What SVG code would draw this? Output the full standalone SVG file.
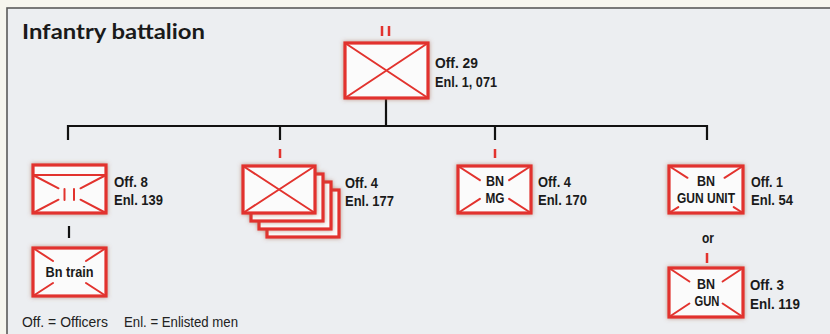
<svg xmlns="http://www.w3.org/2000/svg" width="830" height="334" viewBox="0 0 830 334">
<style>
.box{fill:#fbfbfb;stroke:#e2332e;stroke-width:3.2;filter:url(#glow)}
.x{stroke:#e2332e;stroke-width:2;fill:none;stroke-linecap:round}
.ln{stroke:#111;stroke-width:2.2;fill:none}
.rl{stroke:#e2332e;stroke-width:2.5;fill:none}
.t{font-family:"Liberation Sans",Arial,sans-serif;font-weight:bold;font-size:15px;fill:#1a1a1a}
.c{text-anchor:middle}
.f{font-family:"Liberation Sans",Arial,sans-serif;font-size:14.5px;fill:#222}
</style>
<defs>
<filter id="glow" x="-20%" y="-20%" width="140%" height="140%">
<feDropShadow dx="0" dy="0" stdDeviation="2" flood-color="#a0604a" flood-opacity="0.6"/>
</filter>
</defs>
<rect x="0" y="0" width="830" height="334" fill="#f6f5ee"/>
<rect x="7" y="8" width="830" height="330" fill="#eceef1" stroke="#5a5a5a" stroke-width="1.6"/>
<text x="22" y="39" font-family="Lato,'Liberation Sans',sans-serif" font-weight="bold" font-size="21" fill="#1a1a1a" textLength="183" lengthAdjust="spacingAndGlyphs">Infantry battalion</text>

<g id="connectors">
<path class="ln" d="M386 99V126M68 126H708M68 125V140M280 125V140M495 125V140M707 125V140M69 226V238"/>
<path class="rl" d="M280 149V158M495 149V158M707 253V263"/>
</g>

<g id="bn-hq">
<path class="rl" d="M382 26V36M389 26V36"/>
<rect class="box" x="345" y="43" width="83" height="55"/>
<path class="x" d="M345 43L428 98M428 43L345 98"/>
<text class="t" x="435" y="68" textLength="43" lengthAdjust="spacingAndGlyphs">Off. 29</text>
<text class="t" x="435" y="87" textLength="62" lengthAdjust="spacingAndGlyphs">Enl. 1, 071</text>
</g>

<g id="hq-company">
<rect class="box" x="33" y="165" width="73" height="48"/>
<path class="x" d="M33 175H106M33 175L58.5 188.3M106 175L80.5 188.3M33 213L58.5 199.7M106 213L80.5 199.7M64.5 189V200M74 189V200"/>
<text class="t" x="114" y="187" textLength="34" lengthAdjust="spacingAndGlyphs">Off. 8</text>
<text class="t" x="114" y="205" textLength="49" lengthAdjust="spacingAndGlyphs">Enl. 139</text>
</g>

<g id="bn-train">
<rect class="box" x="33" y="248" width="73" height="48"/>
<path class="x" d="M33 248L53 261M106 248L86 261M33 296L53 283M106 296L86 283"/>
<text class="t c" x="69.5" y="277" textLength="48" lengthAdjust="spacingAndGlyphs">Bn train</text>
</g>

<g id="rifle-companies">
<rect class="box" x="267" y="190" width="72" height="47"/>
<rect class="box" x="259" y="182" width="72" height="47"/>
<rect class="box" x="251" y="174" width="72" height="47"/>
<rect class="box" x="243" y="166" width="72" height="47"/>
<path class="x" d="M243 166L315 213M315 166L243 213"/>
<text class="t" x="345" y="188" textLength="33" lengthAdjust="spacingAndGlyphs">Off. 4</text>
<text class="t" x="345" y="206" textLength="49" lengthAdjust="spacingAndGlyphs">Enl. 177</text>
</g>

<g id="bn-mg">
<rect class="box" x="458" y="166" width="73" height="47"/>
<path class="x" d="M458 166L479.9 180.1M531 166L509.1 180.1M458 213L479.9 198.9M531 213L509.1 198.9"/>
<text class="t c" x="495" y="186" textLength="18" lengthAdjust="spacingAndGlyphs">BN</text>
<text class="t c" x="495" y="203" textLength="19" lengthAdjust="spacingAndGlyphs">MG</text>
<text class="t" x="538" y="187" textLength="33" lengthAdjust="spacingAndGlyphs">Off. 4</text>
<text class="t" x="538" y="205" textLength="49" lengthAdjust="spacingAndGlyphs">Enl. 170</text>
</g>

<g id="bn-gun-unit">
<rect class="box" x="669" y="166" width="74" height="47"/>
<path class="x" d="M669 166L687.5 177.8M743 166L724.5 177.8M669 213L678.3 207.1M743 213L733.7 207.1"/>
<text class="t c" x="706" y="186" textLength="18" lengthAdjust="spacingAndGlyphs">BN</text>
<text class="t c" x="706" y="203" textLength="58" lengthAdjust="spacingAndGlyphs">GUN UNIT</text>
<text class="t" x="751" y="187" textLength="32" lengthAdjust="spacingAndGlyphs">Off. 1</text>
<text class="t" x="751" y="205" textLength="42" lengthAdjust="spacingAndGlyphs">Enl. 54</text>
</g>

<text class="t c" x="708" y="243" textLength="12" lengthAdjust="spacingAndGlyphs">or</text>

<g id="bn-gun">
<rect class="box" x="669" y="268" width="74" height="49"/>
<path class="x" d="M669 268L689.4 281.5M743 268L722.6 281.5M669 317L689.4 303.5M743 317L722.6 303.5"/>
<text class="t c" x="706" y="289" textLength="18" lengthAdjust="spacingAndGlyphs">BN</text>
<text class="t c" x="707" y="306" textLength="25" lengthAdjust="spacingAndGlyphs">GUN</text>
<text class="t" x="750" y="290" textLength="34" lengthAdjust="spacingAndGlyphs">Off. 3</text>
<text class="t" x="750" y="309" textLength="50" lengthAdjust="spacingAndGlyphs">Enl. 119</text>
</g>

<text class="f" x="22" y="327" textLength="86" lengthAdjust="spacingAndGlyphs">Off.  = Officers</text>
<text class="f" x="124" y="327" textLength="114" lengthAdjust="spacingAndGlyphs">Enl. = Enlisted men</text>
</svg>
